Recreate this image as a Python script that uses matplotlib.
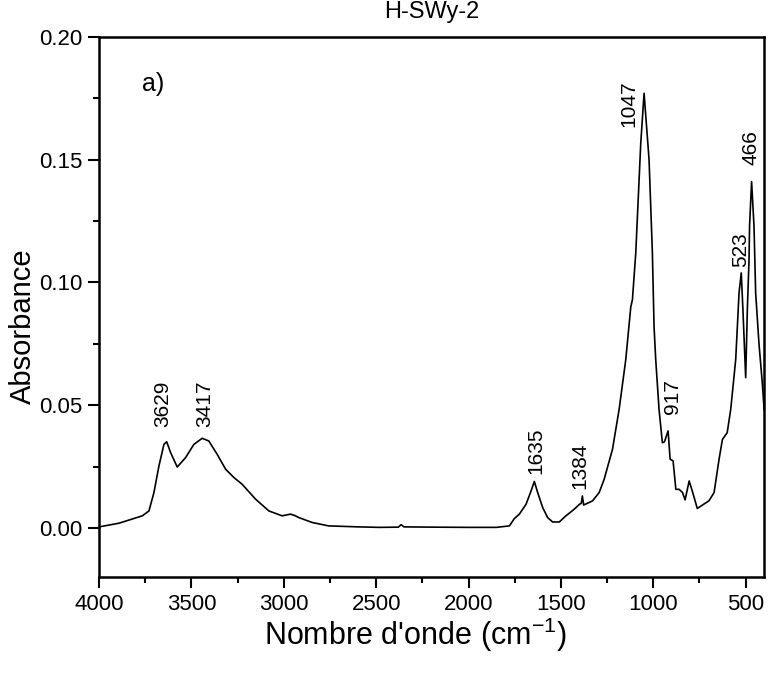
import matplotlib.pyplot as plt
from matplotlib.ticker import MultipleLocator, FormatStrFormatter

plt.rcParams['font.family'] = ['Liberation Sans', 'DejaVu Sans']
plt.rcParams['mathtext.fontset'] = 'custom'
plt.rcParams['mathtext.rm'] = 'Liberation Sans'
plt.rcParams['mathtext.it'] = 'Liberation Sans'

# spectrum (wavenumber cm-1, absorbance)
wavenumber = [4000, 3892, 3766, 3730, 3703, 3676, 3649, 3634, 3613, 3577,
              3532, 3487, 3442, 3406, 3361, 3315, 3270, 3226, 3153, 3081,
              3009, 2964, 2940, 2919, 2847, 2757, 2595, 2482, 2380, 2365,
              2350, 2200, 2000, 1850, 1779, 1752, 1725, 1689, 1662, 1644,
              1626, 1599, 1572, 1545, 1509, 1473, 1428, 1400, 1390, 1384,
              1377, 1329, 1293, 1266, 1221, 1185, 1149, 1122, 1113, 1095,
              1068, 1050, 1023, 1005, 996, 987, 969, 951, 940, 920,
              909, 893, 878, 860, 842, 828, 806, 789, 762, 730,
              699, 671, 644, 626, 600, 581, 554, 536, 524, 515,
              500, 491, 482, 479, 468, 455, 446, 428, 410, 400]
absorbance = [0.0004, 0.0019, 0.0049, 0.0069, 0.0144, 0.0252, 0.0340, 0.0351, 0.0307, 0.0248,
              0.0286, 0.0340, 0.0365, 0.0354, 0.0300, 0.0239, 0.0205, 0.0178, 0.0117, 0.0069,
              0.0049, 0.0056, 0.0050, 0.0042, 0.0022, 0.0008, 0.0004, 0.0002, 0.0003, 0.0013,
              0.0004, 0.0003, 0.0002, 0.0002, 0.0008, 0.0038, 0.0056, 0.0096, 0.0150, 0.0189,
              0.0144, 0.0083, 0.0042, 0.0024, 0.0024, 0.0049, 0.0076, 0.0096, 0.0100, 0.0130,
              0.0093, 0.0110, 0.0144, 0.0198, 0.0320, 0.0483, 0.0686, 0.0900, 0.0930, 0.1120,
              0.1567, 0.1771, 0.1500, 0.1120, 0.0820, 0.0686, 0.0483, 0.0347, 0.0350, 0.0395,
              0.0280, 0.0273, 0.0157, 0.0157, 0.0144, 0.0114, 0.0191, 0.0150, 0.0079, 0.0095,
              0.0110, 0.0144, 0.0280, 0.0360, 0.0388, 0.0483, 0.0686, 0.0957, 0.1039, 0.0890,
              0.0612, 0.0890, 0.1090, 0.1230, 0.1411, 0.1230, 0.0957, 0.0750, 0.0590, 0.0480]

peak_labels = ['3629', '3417', '1635', '1384', '1047', '917', '523', '466']
peak_x = [3657, 3427, 1633, 1395, 1131, 896, 528, 469]
peak_y = [0.041, 0.041, 0.0218, 0.0157, 0.1633, 0.0462, 0.1064, 0.148]

fig = plt.figure(figsize=(7.68, 6.74), dpi=100)
ax = fig.add_axes([0.129, 0.144, 0.866, 0.801])

ax.plot(wavenumber, absorbance, color='black', lw=1.2)

ax.set_xlim(4000, 400)
ax.set_ylim(-0.02, 0.20)
ax.xaxis.set_major_locator(MultipleLocator(500))
ax.xaxis.set_minor_locator(MultipleLocator(250))
ax.yaxis.set_major_locator(MultipleLocator(0.05))
ax.yaxis.set_minor_locator(MultipleLocator(0.025))
ax.yaxis.set_major_formatter(FormatStrFormatter('%.2f'))

ax.tick_params(which='both', direction='out', top=False, right=False,
               width=1.5, labelsize=16)
ax.tick_params(which='major', length=8, pad=4)
ax.tick_params(which='minor', length=4)
for s in ax.spines.values():
    s.set_linewidth(1.8)

for lab, x, y in zip(peak_labels, peak_x, peak_y):
    ax.text(x, y, lab, rotation=90, ha='center', va='bottom', fontsize=15)

ax.text(3768, 0.178, 'a)', fontsize=18, ha='left', va='baseline')

ax.set_title('H-SWy-2', fontsize=17, pad=14)
ax.set_xlabel("Nombre d'onde (cm$^{-1}$)", fontsize=22)
ax.set_ylabel('Absorbance', fontsize=21)
ax.xaxis.set_label_coords(0.476, -0.072)
ax.yaxis.set_label_coords(-0.093, 0.465)

fig.savefig('out.png', dpi=100)
